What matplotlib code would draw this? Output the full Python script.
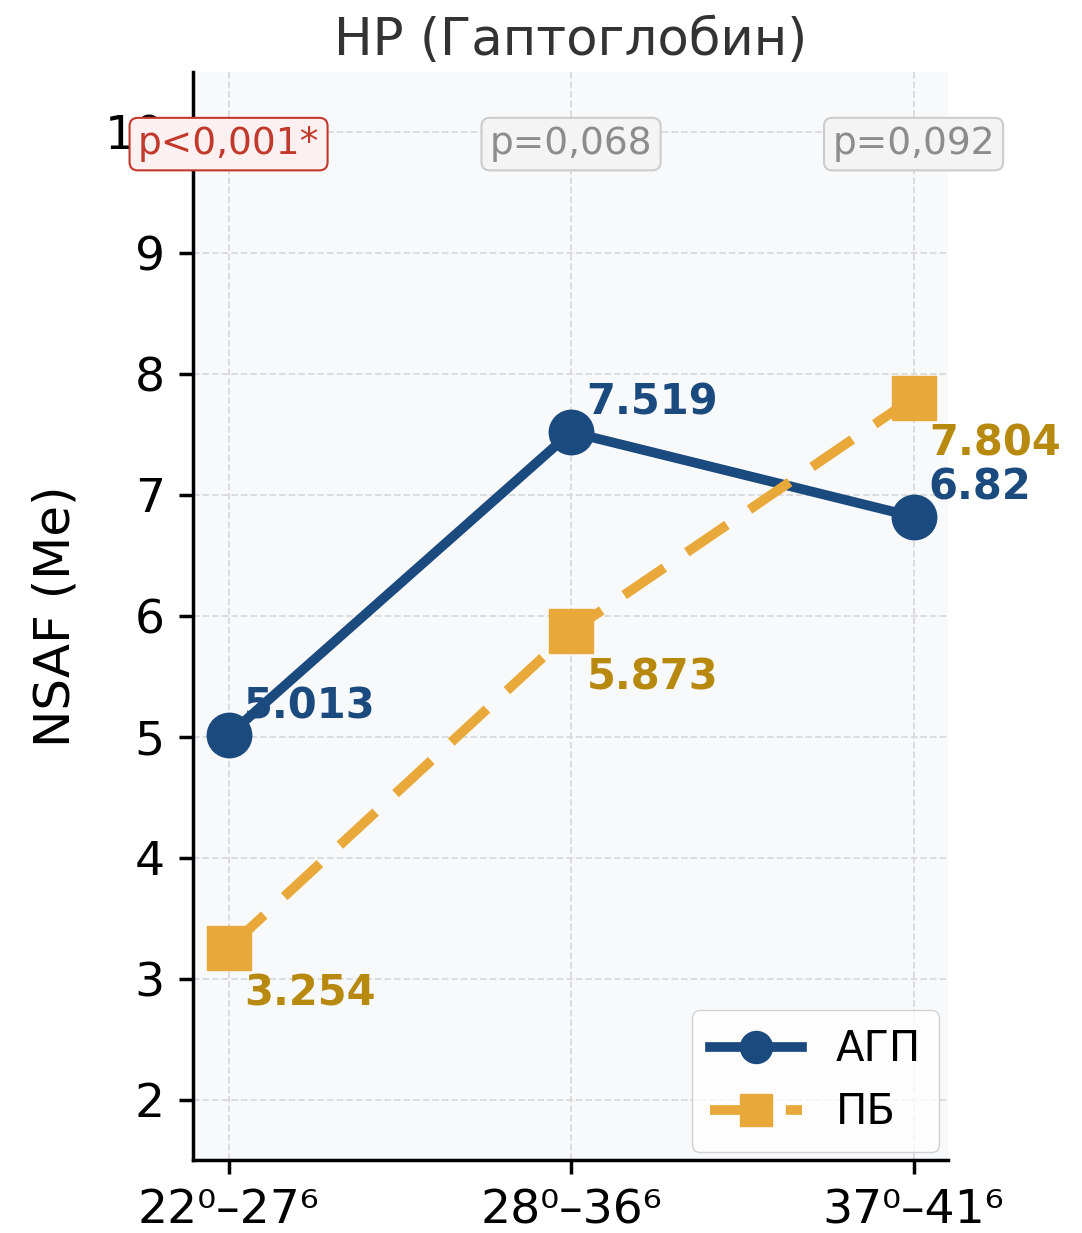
import matplotlib.pyplot as plt

# Сроки гестации и медианы NSAF
periods = ['22⁰–27⁶', '28⁰–36⁶', '37⁰–41⁶']
agp_values = [5.013, 7.519, 6.82]
pb_values = [3.254, 5.873, 7.804]
p_labels = ['p<0,001*', 'p=0,068', 'p=0,092']
p_significant = [True, False, False]

blue = '#1b4a7e'
orange = '#e9a93a'
gold = '#b8890f'

plt.rcParams['font.family'] = ['DejaVu Sans']
fig, ax = plt.subplots(figsize=(10.82, 12.33), dpi=100)
ax.set_facecolor('#f8f9fb')

x = range(len(periods))
ax.plot(x, agp_values, color=blue, lw=7, marker='o', ms=32, label='АГП', zorder=3)
ax.plot(x, pb_values, color=orange, lw=7, ls='--', dashes=(5, 2.8), marker='s', ms=32,
        label='ПБ', zorder=3)

# подписи значений
for i, v in enumerate(agp_values):
    ax.annotate(f'{v:g}', (i, v), xytext=(11, 21), textcoords='offset points',
                ha='left', va='center', fontsize=30, fontweight='bold', color=blue, zorder=4)
for i, v in enumerate(pb_values):
    ax.annotate(f'{v:g}', (i, v), xytext=(11, -33), textcoords='offset points',
                ha='left', va='center', fontsize=30, fontweight='bold', color=gold, zorder=4)

# p-значения над каждой группой
for i, (txt, sig) in enumerate(zip(p_labels, p_significant)):
    if sig:
        box = dict(boxstyle='round,pad=0.22', fc='#fdf0f0', ec='#c0392b', lw=1.5)
        col = '#c0392b'
    else:
        box = dict(boxstyle='round,pad=0.22', fc='#f4f4f4', ec='#cccccc', lw=1.5)
        col = '#8c8c8c'
    ax.text(i, 9.9, txt, ha='center', va='center', fontsize=27, color=col, bbox=box,
            zorder=5, clip_on=False)

ax.set_xlim(-0.105, 2.1)
ax.set_ylim(1.5, 10.5)
ax.set_xticks(list(x))
ax.set_xticklabels(periods)
ax.set_yticks(range(2, 11))
ax.tick_params(labelsize=34, width=2.5, length=10, pad=10)
ax.set_ylabel('NSAF (Me)', fontsize=36, labelpad=18)
ax.set_title('HP (Гаптоглобин)', fontsize=37, color='#333333', pad=12)
ax.grid(True, ls='--', color='#d9d9d9', lw=1.3)
ax.set_axisbelow(True)
for s in ['top', 'right']:
    ax.spines[s].set_visible(False)
for s in ['left', 'bottom']:
    ax.spines[s].set_linewidth(2.5)

ax.legend(loc='lower right', fontsize=30, markerscale=0.72, handlelength=2.2,
          frameon=True, edgecolor='#c8c8c8', borderpad=0.45, borderaxespad=0.2)

plt.subplots_adjust(left=0.178, right=0.876, top=0.942, bottom=0.059)
plt.savefig('out.png', dpi=100)
